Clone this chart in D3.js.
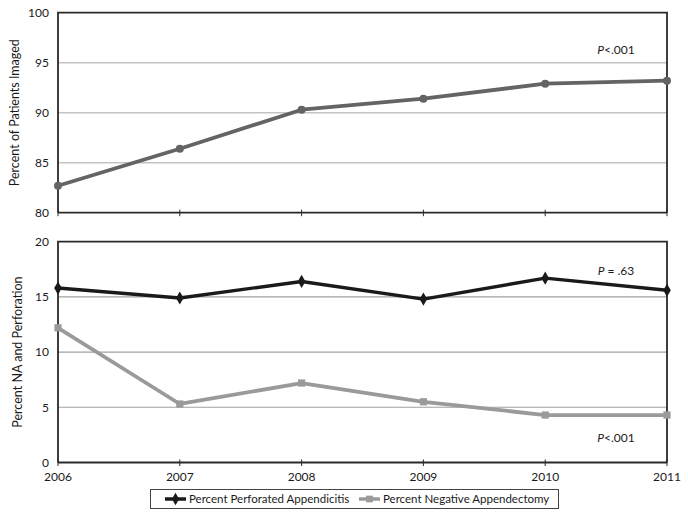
<!DOCTYPE html>
<html>
<head>
<meta charset="utf-8">
<script src="https://d3js.org/d3.v7.min.js"></script>
<style>
  body { margin: 0; background: #fff; }
  text { font-family: Lato, "Open Sans", sans-serif; fill: #1a1a1a; }
</style>
</head>
<body>
<svg id="chart" width="688" height="519"></svg>
<script>
// data
var years = [2006, 2007, 2008, 2009, 2010, 2011];
var imaged = [82.7, 86.4, 90.3, 91.4, 92.9, 93.2];
var perforated = [15.8, 14.9, 16.4, 14.8, 16.7, 15.6];
var negative = [12.2, 5.3, 7.2, 5.5, 4.3, 4.3];
var topTicks = [80, 85, 90, 95, 100];
var bottomTicks = [0, 5, 10, 15, 20];

var svg = d3.select("#chart");

var left = 58, right = 667;

var x = d3.scaleLinear()
  .domain([2006, 2011])
  .range([left, right]);

var yTop = d3.scaleLinear().domain([80, 100]).range([212.7, 12.7]);
var yBot = d3.scaleLinear().domain([0, 20]).range([462.5, 241.7]);

function panel(y, ticks, gridColor, gridW, title, titleX) {
  var g = svg.append("g");
  // gridlines
  g.selectAll(".grid")
    .data(ticks.slice(1, -1))
    .enter().append("line")
    .attr("x1", left).attr("x2", right)
    .attr("y1", function(d) { return y(d); })
    .attr("y2", function(d) { return y(d); })
    .attr("stroke", gridColor)
    .attr("stroke-width", gridW);

  // y tick labels
  var ya = d3.axisLeft(y).tickValues(ticks).tickSize(0).tickPadding(9);
  var yg = g.append("g").attr("transform", "translate(" + left + ",0)").call(ya);
  yg.select(".domain").remove();
  yg.selectAll("text").style("font-size", "12px").style("font-family", "Lato, sans-serif").attr("fill", "#1a1a1a");

  // frame
  var r = y.range();
  g.append("path")
    .attr("d", "M" + left + "," + r[0] + "V" + r[1] + "H" + right + "V" + r[0])
    .attr("fill", "none")
    .attr("stroke", "#2a2a2a")
    .attr("stroke-width", 1.8);

  // bottom axis with crossing ticks
  g.append("line")
    .attr("x1", left).attr("x2", right)
    .attr("y1", r[0]).attr("y2", r[0])
    .attr("stroke", "#2a2a2a").attr("stroke-width", 1.8);
  g.selectAll(".tk")
    .data(years)
    .enter().append("line")
    .attr("x1", function(d) { return x(d); })
    .attr("x2", function(d) { return x(d); })
    .attr("y1", r[0] - 3).attr("y2", r[0] + 3.5)
    .attr("stroke", "#2a2a2a").attr("stroke-width", 1);

  // y title
  g.append("text")
    .attr("transform", "translate(" + titleX + "," + ((r[0] + r[1]) / 2) + ") rotate(-90)")
    .attr("text-anchor", "middle")
    .attr("dy", "0.35em")
    .style("font-size", "12.5px")
    .text(title);
  return g;
}

panel(yTop, topTicks, "#c4c4c4", 1.6, "Percent of Patients Imaged", 15);
panel(yBot, bottomTicks, "#a0a0a0", 1.1, "Percent NA and Perforation", 18);

// x tick labels
svg.append("g").selectAll("text")
  .data(years)
  .enter().append("text")
  .attr("x", function(d) { return x(d); })
  .attr("y", 481)
  .attr("text-anchor", "middle")
  .style("font-size", "12px")
  .text(function(d) { return d; });

function series(vals, y, color, width) {
  var line = d3.line()
    .x(function(d, i) { return x(years[i]); })
    .y(function(d) { return y(d); });
  svg.append("path")
    .datum(vals)
    .attr("d", line)
    .attr("fill", "none")
    .attr("stroke", color)
    .attr("stroke-width", width)
    .attr("stroke-linejoin", "round");
}

// top: percent imaged
series(imaged, yTop, "#646464", 3.8);
svg.append("g").selectAll("circle")
  .data(imaged)
  .enter().append("circle")
  .attr("cx", function(d, i) { return x(years[i]); })
  .attr("cy", function(d) { return yTop(d); })
  .attr("r", 4)
  .attr("fill", "#646464");

// bottom: negative appendectomy (grey squares)
series(negative, yBot, "#9a9a9a", 3.8);
svg.append("g").selectAll("path")
  .data(negative)
  .enter().append("path")
  .attr("d", d3.symbol().type(d3.symbolSquare).size(52))
  .attr("transform", function(d, i) { return "translate(" + x(years[i]) + "," + yBot(d) + ")"; })
  .attr("fill", "#9a9a9a");

// bottom: perforated (black diamonds)
series(perforated, yBot, "#1a1a1a", 3.4);
svg.append("g").selectAll("path")
  .data(perforated)
  .enter().append("path")
  .attr("d", d3.symbol().type(d3.symbolDiamond).size(50))
  .attr("transform", function(d, i) { return "translate(" + x(years[i]) + "," + yBot(d) + ")"; })
  .attr("fill", "#1a1a1a");

// P value annotations
function pLabel(px, py, rest) {
  var t = svg.append("text")
    .attr("x", px).attr("y", py)
    .attr("text-anchor", "middle")
    .style("font-size", "12px");
  t.append("tspan").style("font-style", "italic").text("P");
  t.append("tspan").text(rest);
}
pLabel(616, 54, "<.001");
pLabel(616, 275, " = .63");
pLabel(616, 442, "<.001");

// legend
var lg = svg.append("g");
lg.append("rect")
  .attr("x", 150.5).attr("y", 489.5)
  .attr("width", 408).attr("height", 19)
  .attr("fill", "#fff").attr("stroke", "#444").attr("stroke-width", 1);

var legendItems = [
  { label: "Percent Perforated Appendicitis", color: "#1a1a1a", sym: d3.symbolDiamond, x0: 165 },
  { label: "Percent Negative Appendectomy", color: "#9a9a9a", sym: d3.symbolSquare, x0: 359 }
];
legendItems.forEach(function(it) {
  lg.append("line")
    .attr("x1", it.x0).attr("x2", it.x0 + 21)
    .attr("y1", 499).attr("y2", 499)
    .attr("stroke", it.color).attr("stroke-width", 3.5);
  lg.append("path")
    .attr("d", d3.symbol().type(it.sym).size(45))
    .attr("transform", "translate(" + (it.x0 + 10.5) + ",499)")
    .attr("fill", it.color);
  lg.append("text")
    .attr("x", it.x0 + 24).attr("y", 503)
    .style("font-size", "11.5px")
    .text(it.label);
});
</script>
</body>
</html>
